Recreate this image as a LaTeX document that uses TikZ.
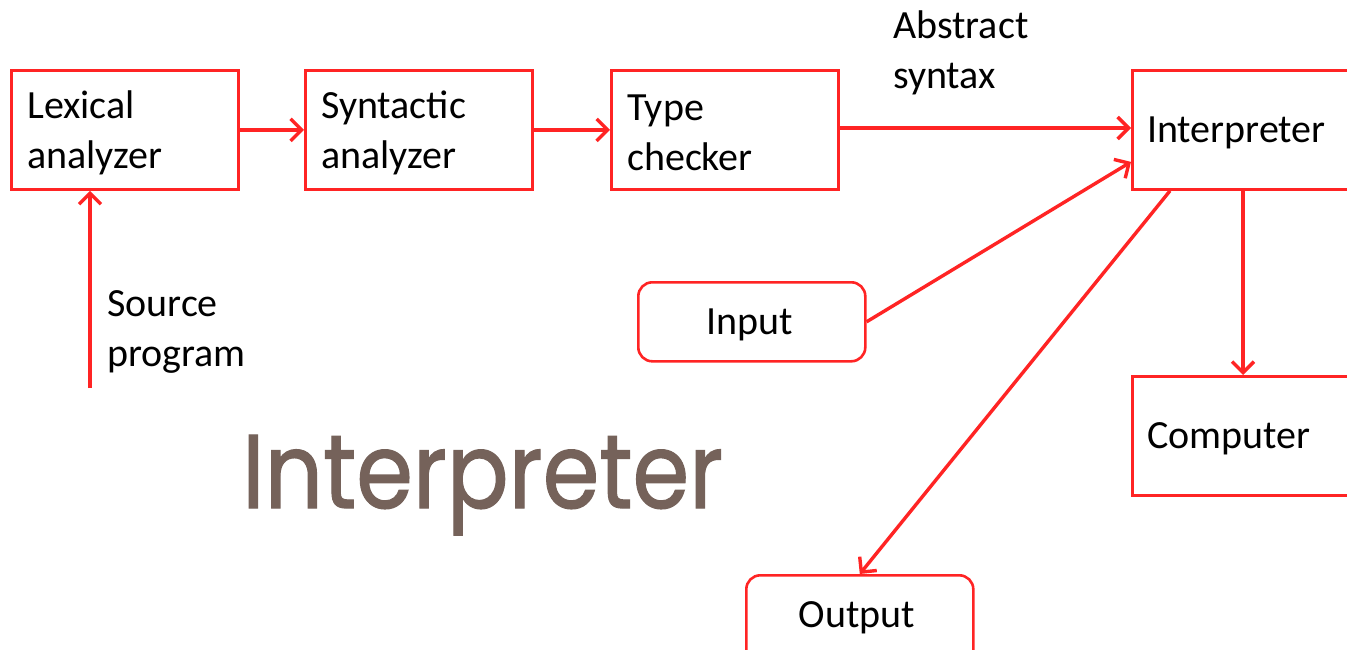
\documentclass[tikz,border=0pt]{standalone}
\usepackage{fontspec}
\setmainfont{Carlito}
\newfontfamily\titlefont[FakeBold=1.2]{Poppins}
\usepackage{graphicx}
\usetikzlibrary{arrows.meta,positioning}
\definecolor{lred}{HTML}{FF2424}
\definecolor{titlebrown}{HTML}{75625A}
\tikzset{
  x=1pt, y=-1pt,
  box/.style={draw=lred, line width=2.8pt, rectangle, anchor=north west,
    minimum height=119pt, inner sep=0pt},
  rbox/.style={draw=lred, line width=2.6pt, rectangle, rounded corners=14pt,
    anchor=north west, minimum width=227pt, minimum height=79pt, inner sep=0pt},
  txt/.style={inner sep=0pt, align=left, font=\fontsize{40}{50}\selectfont},
  conn/.style={draw=lred, line width=3.4pt, -{Straight Barb[length=11pt,width=22pt,line width=3.4pt]}},
  lbl/.style={anchor=north west, inner sep=0pt, align=left, font=\fontsize{40}{50}\selectfont}
}
\begin{document}
\begin{tikzpicture}
\useasboundingbox (0,0) rectangle (1347,650);
\clip (0,0) rectangle (1347,650);
\fill[white] (0,0) rectangle (1347,650);

\node[box, minimum width=227pt] (lex) at (10,69) {};
\node[box, minimum width=227pt] (syn) at (304,69) {};
\node[box, minimum width=227pt] (type) at (610,69) {};
\node[box, minimum width=240pt] (interp) at (1131,69) {};
\node[box, minimum width=240pt] (comp) at (1131,375) {};
\node[rbox] (input) at (637,281) {};
\node[rbox, minimum height=100pt] (output) at (745,574) {};

\node[txt, anchor=west] (lext) at ([xshift=17pt,yshift=-3pt]lex.west) {Lexical\\analyzer};
\node[txt, anchor=west] (synt) at ([xshift=17pt,yshift=-3pt]syn.west) {Syntactic\\analyzer};
\node[txt, anchor=west] (typet) at ([xshift=17pt,yshift=-3pt]type.west) {Type\\checker};
\node[txt, anchor=west] (interpt) at ([xshift=16pt,yshift=-3pt]interp.west) {Interpreter};
\node[txt, anchor=west] (compt) at ([xshift=16pt,yshift=-3pt]comp.west) {Computer};
\node[txt] (inputt) at ([xshift=-2pt,yshift=-3pt]input.center) {Input};
\node[txt] (outputt) at (857,618) {Output};

\node[lbl] (abs) at (893,11) {Abstract\\syntax};
\node[lbl] (srclbl) at (107,290) {Source\\program};

\node[anchor=base west, inner sep=0pt, text=titlebrown] (title) at (242,508)
  {\resizebox{481pt}{73pt}{\titlefont Interpreter}};

\coordinate (src) at (90,388);
\draw[conn] (src) -- (lex.south -| src);
\draw[conn] (lex.east) -- (syn.west);
\draw[conn] (syn.east) -- (type.west);
\draw[conn] (type.east |- 0,128) -- (interp.west |- 0,128);
\draw[conn] (input.east) -- ([yshift=-32pt]interp.west);
\draw[conn] ([xshift=39pt]interp.south west) -- (output.north);
\draw[conn] ([xshift=112pt]interp.south west) -- ([xshift=112pt]comp.north west);
\end{tikzpicture}
\end{document}
